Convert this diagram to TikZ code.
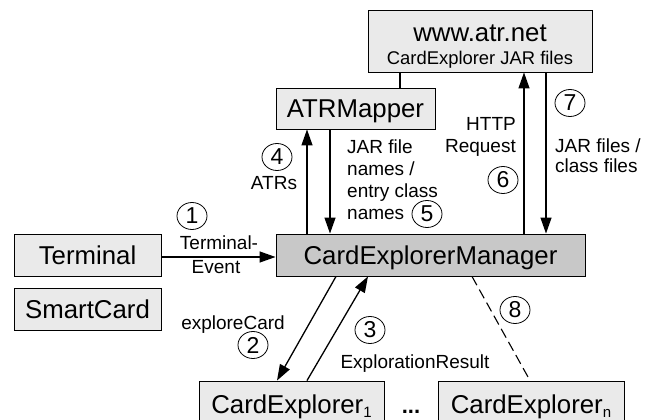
\documentclass[tikz,border=0pt]{standalone}
\usepackage{fontspec}
\setmainfont{Liberation Sans}
\usetikzlibrary{arrows.meta,shapes.geometric,shadows}
\definecolor{boxgray}{HTML}{EAEAEA}
\definecolor{mgrgray}{HTML}{C8C8C8}
\newcommand{\lowsub}[1]{\raisebox{-4.5pt}{\fontsize{15}{15}\selectfont #1}}
\begin{document}
\begin{tikzpicture}[x=1pt,y=-1pt,
  box/.style={draw=black, line width=0.9pt, fill=boxgray, inner sep=0pt,
    font=\fontsize{25.8}{26}\selectfont, text height=18.5pt, text depth=0pt,
    general shadow={fill=black!45, shadow xshift=1.3pt, shadow yshift=-1.3pt}},
  lbl/.style={inner sep=0pt, anchor=base, font=\fontsize{19}{22}\selectfont},
  num/.style={draw=black, line width=0.8pt, ellipse, inner sep=0pt,
    minimum width=30pt, minimum height=27pt, font=\fontsize{23}{23}\selectfont},
  arr/.style={line width=1.3pt, -{Triangle[length=16pt,width=11pt]}},
  conn/.style={line width=1.3pt}
]
\useasboundingbox (0,0) rectangle (653,420);
\clip (0,0) rectangle (653,420);

% boxes
\node[box, minimum width=224pt, minimum height=62pt] (www) at (480,41) {};
\node[lbl, font=\fontsize{25.8}{25}\selectfont] (wwwt) at (480,42) {www.atr.net};
\node[lbl, font=\fontsize{18.4}{22}\selectfont] (wwwsub) at (480,64) {CardExplorer JAR files};
\node[box, minimum width=159pt, minimum height=41pt] (atrm) at (355.5,108.5) {ATRMapper};
\node[box, fill=mgrgray, minimum width=309pt, minimum height=42pt] (mgr) at (430.5,255) {CardExplorerManager};
\node[box, minimum width=147pt, minimum height=42pt] (term) at (87.5,255) {Terminal};
\node[box, minimum width=147pt, minimum height=42pt] (sc) at (87.5,309) {SmartCard};
\node[box, minimum width=185pt, minimum height=46pt] (ce1) at (291.5,404) {CardExplorer\lowsub{1}};
\node[box, minimum width=186pt, minimum height=46pt] (cen) at (531,404) {CardExplorer\lowsub{n}};
\node[lbl, font=\fontsize{22}{22}\selectfont\bfseries] (dots) at (411,413) {...};

% connectors
\draw[conn] ([xshift=-80pt]www.south) -- ([xshift=44.5pt]atrm.north);
\draw[arr] ([xshift=-123.5pt]mgr.north) -- ([xshift=-48.5pt]atrm.south);
\draw[arr] ([xshift=-25.5pt]atrm.south) -- ([xshift=-100.5pt]mgr.north);
\draw[arr] ([xshift=93.5pt]mgr.north) -- ([xshift=44pt]www.south);
\draw[arr] ([xshift=66pt]www.south) -- ([xshift=115.5pt]mgr.north);
\draw[arr] ([yshift=-2pt]term.east) -- ([yshift=-2pt]mgr.west);
\draw[arr] ([xshift=-94.5pt]mgr.south) -- ([xshift=-14.5pt]ce1.north);
\draw[arr] ([xshift=15.5pt]ce1.north) -- ([xshift=-62.5pt]mgr.south);
\draw[conn, line width=1.1pt, dash pattern=on 10pt off 5pt] ([xshift=41.5pt]mgr.south) -- ([xshift=-1pt]cen.north);

% labels
\node[num] (n1) at (192,216) {1};
\node[lbl] (l1a) at (219,249) {Terminal-};
\node[lbl] (l1b) at (216,273) {Event};
\node[num] (n4) at (277,157) {4};
\node[lbl] (l4) at (274,189) {ATRs};
\node[lbl, anchor=base west] (l5a) at (347,153) {JAR file};
\node[lbl, anchor=base west] (l5b) at (347,175) {names /};
\node[lbl, anchor=base west] (l5c) at (347,197) {entry class};
\node[lbl, anchor=base west] (l5d) at (347,219) {names};
\node[num] (n5) at (427,214) {5};
\node[lbl, anchor=base east] (l6a) at (516,130) {HTTP};
\node[lbl, anchor=base east] (l6b) at (516,152) {Request};
\node[num] (n6) at (503,180) {6};
\node[num] (n7) at (570,103) {7};
\node[lbl, anchor=base west] (l7a) at (555,152) {JAR files /};
\node[lbl, anchor=base west] (l7b) at (555,172) {class files};
\node[lbl] (l2) at (233,329) {exploreCard};
\node[num] (n2) at (253,345) {2};
\node[num] (n3) at (370,330) {3};
\node[lbl] (l3) at (415,368) {ExplorationResult};
\node[num] (n8) at (515,310) {8};
\end{tikzpicture}
\end{document}
